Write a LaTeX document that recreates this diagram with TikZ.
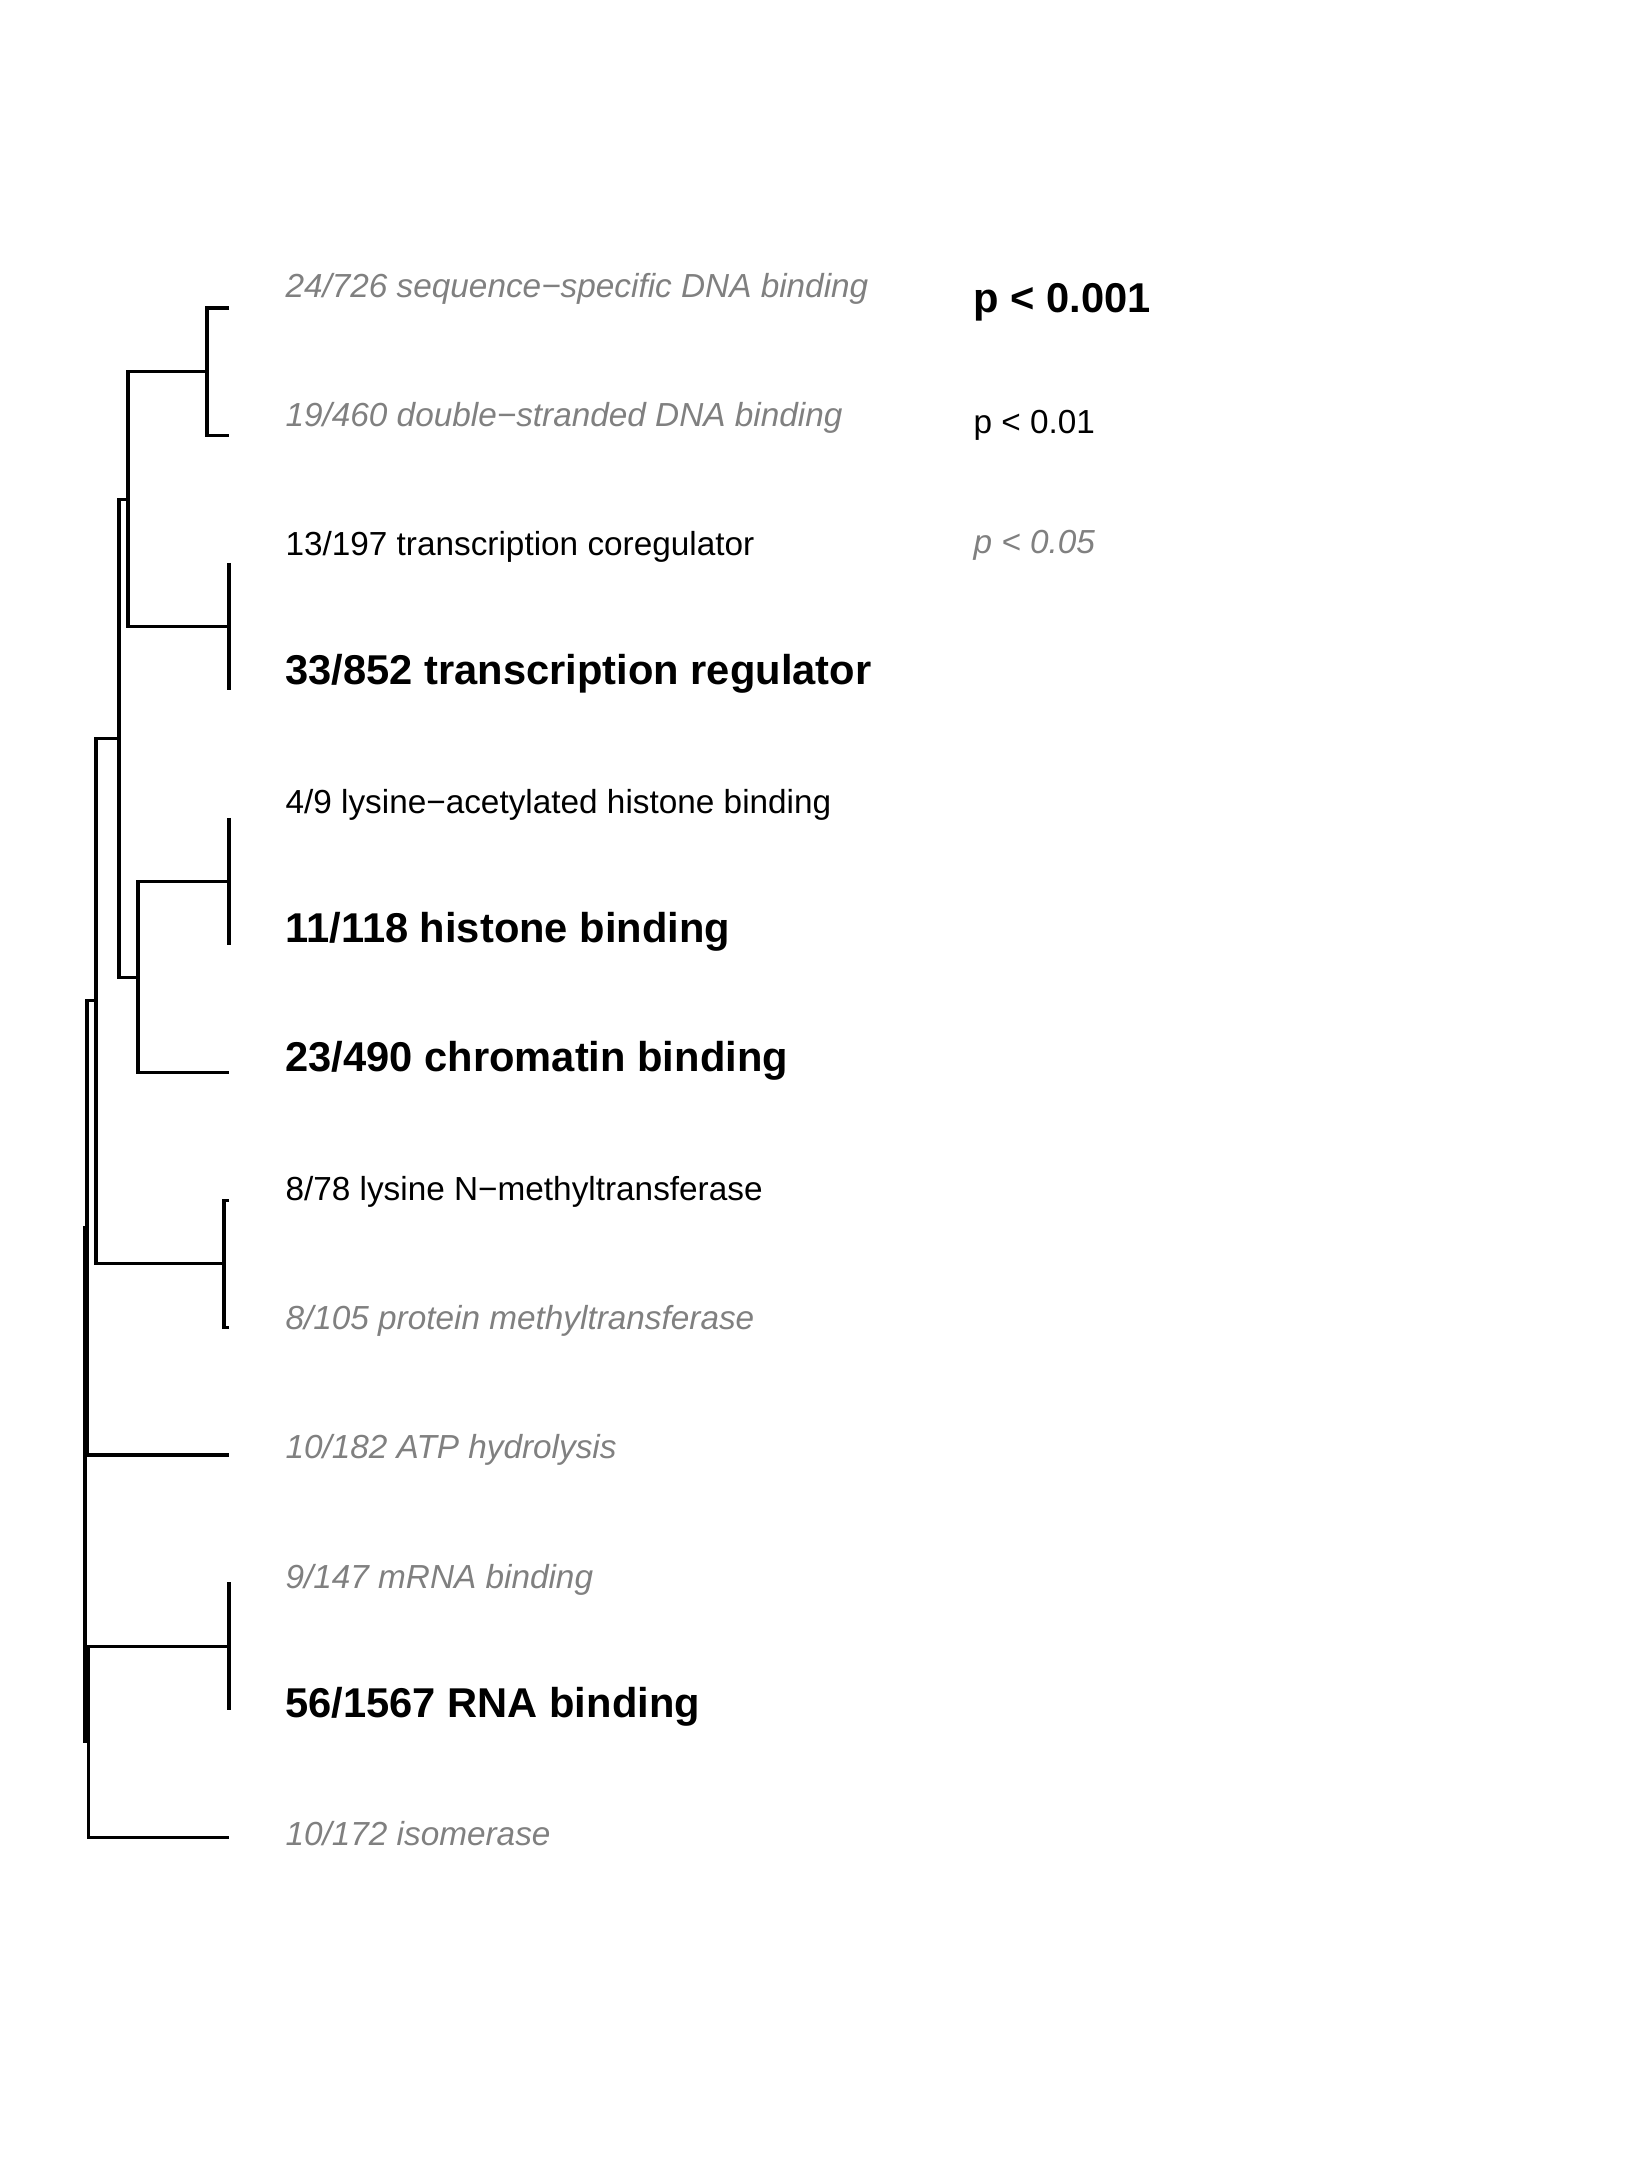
\documentclass[tikz,border=0pt]{standalone}
\usepackage{fontspec}
\setmainfont{Liberation Sans}
\usetikzlibrary{positioning}
\definecolor{weak}{gray}{0.5}

\tikzset{
  branch/.style={line width=1.1pt},
  lab/.style={anchor=base west, inner sep=0pt},
  plow/.style={lab, font=\fontsize{12}{14}\selectfont\itshape, text=weak},
  pmid/.style={lab, font=\fontsize{12}{14}\selectfont},
  phigh/.style={lab, font=\fontsize{15}{18}\selectfont\bfseries}
}

\begin{document}
\begin{tikzpicture}[x=0.36pt,y=-0.36pt]
  \useasboundingbox (0,0) rectangle (1635,2179);

  % leaves
  \foreach \i in {1,...,13}
    \coordinate (l\i) at (229,{308+127.44*(\i-1)});

  % inner nodes of the tree
  \coordinate (A) at (207,371.72);
  \coordinate (B) at (229,626.60);
  \coordinate (C) at (128,499.16);
  \coordinate (D) at (229,881.48);
  \coordinate (E) at (138,977.06);
  \coordinate (F) at (119,738.11);
  \coordinate (G) at (224,1263.80);
  \coordinate (H) at (96,1000.96);
  \coordinate (L) at (87,1227.96);
  \coordinate (I) at (229,1646.12);
  \coordinate (J) at (88.5,1741.70);
  \coordinate (K) at (85,1484.83);

  \draw[branch]
    (l1) -| (A) |- (l2)
    (l3) -| (B) |- (l4)
    (A) -| (C) |- (B)
    (l5) -| (D) |- (l6)
    (D) -| (E) |- (l7)
    (C) -| (F) |- (E)
    (l8) -| (G) |- (l9)
    (F) -| (H) |- (G)
    (H) -| (L) |- (l10)
    (l11) -| (I) |- (l12)
    (I) -| (J) |- (l13)
    (L) -| (K) |- (J);

  % term labels
  \node[plow]  (t1)  at (285,297.0)  {24/726 sequence−specific DNA binding};
  \node[plow]  (t2)  at (285,426.1)  {19/460 double−stranded DNA binding};
  \node[pmid]  (t3)  at (285,555.2)  {13/197 transcription coregulator};
  \node[phigh] (t4)  at (285,684.0)  {33/852 transcription regulator};
  \node[pmid]  (t5)  at (285,813.4)  {4/9 lysine−acetylated histone binding};
  \node[phigh] (t6)  at (285,942.0)  {11/118 histone binding};
  \node[phigh] (t7)  at (285,1071.0) {23/490 chromatin binding};
  \node[pmid]  (t8)  at (285,1200.7) {8/78 lysine N−methyltransferase};
  \node[plow]  (t9)  at (285,1329.8) {8/105 protein methyltransferase};
  \node[plow]  (t10) at (285,1458.9) {10/182 ATP hydrolysis};
  \node[plow]  (t11) at (285,1588.0) {9/147 mRNA binding};
  \node[phigh] (t12) at (285,1717.0) {56/1567 RNA binding};
  \node[plow]  (t13) at (285,1845.2) {10/172 isomerase};

  % legend
  \node[phigh] (k1) at (973,312) {p < 0.001};
  \node[pmid]  (k2) at (973,433) {p < 0.01};
  \node[plow]  (k3) at (973,553) {p < 0.05};
\end{tikzpicture}
\end{document}
